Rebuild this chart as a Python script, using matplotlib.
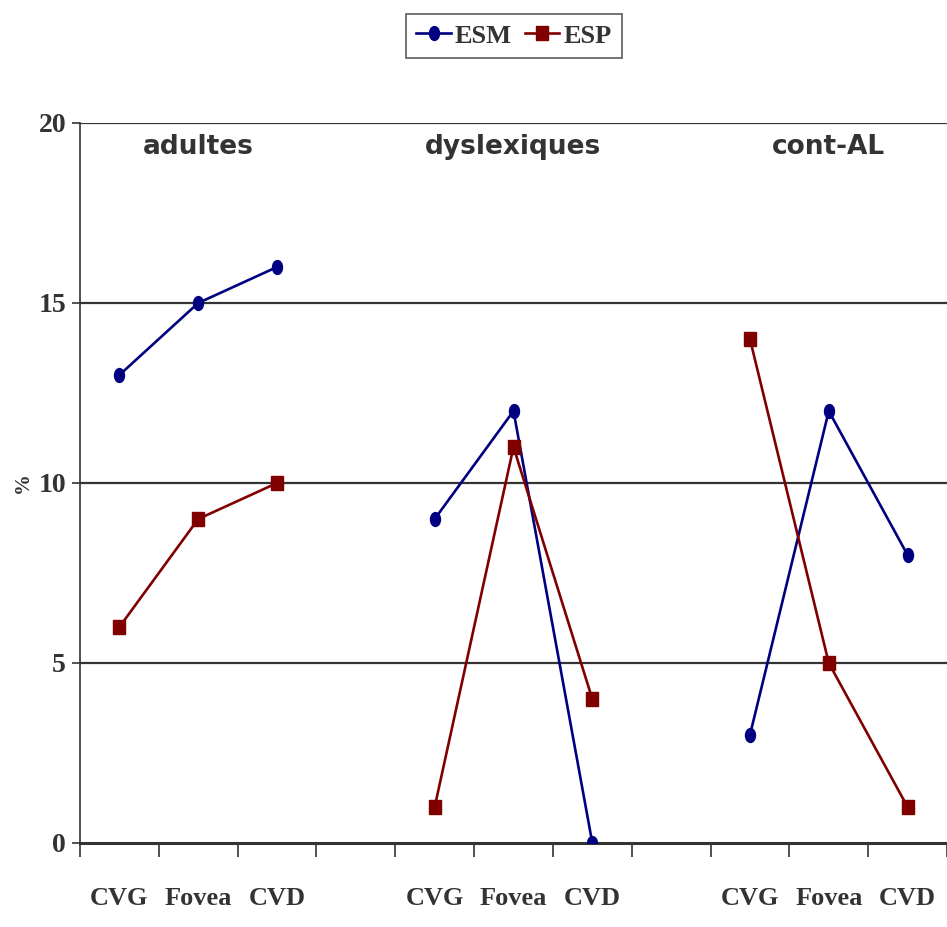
import numpy as np
import matplotlib
matplotlib.use("Agg")
import matplotlib.pyplot as plt
from matplotlib.markers import MarkerStyle
from matplotlib.transforms import Affine2D

# Categories along the x axis (an empty slot separates each group)
categories = ["CVG", "Fovea", "CVD", "", "CVG", "Fovea", "CVD", "", "CVG", "Fovea", "CVD"]
groups = ["adultes", "dyslexiques", "cont-AL"]
group_positions = [[0, 1, 2], [4, 5, 6], [8, 9, 10]]

# Percentages per group
esm = [[13, 15, 16], [9, 12, 0], [3, 12, 8]]
esp = [[6, 9, 10], [1, 11, 4], [14, 5, 1]]

yticks = [0, 5, 10, 15, 20]

navy = "#000080"
maroon = "#800000"
dark = "#333333"

serif = ["Liberation Serif", "DejaVu Serif"]

fig = plt.figure(figsize=(9.47, 9.27), dpi=100)
ax = fig.add_axes([80 / 947, 1 - 843 / 927, 1 - 80 / 947, (843 - 123) / 927])

oval = MarkerStyle("o", transform=Affine2D().scale(0.72, 1.0))
square = MarkerStyle("s", transform=Affine2D().scale(0.85, 1.0))

for i, pos in enumerate(group_positions):
    ax.plot(pos, esm[i], color=navy, lw=1.9, marker=oval, ms=10,
            mec=navy, mfc=navy, label="ESM" if i == 0 else None, zorder=3)
    ax.plot(pos, esp[i], color=maroon, lw=1.9, marker=square, ms=9.5,
            mec=maroon, mfc=maroon, label="ESP" if i == 0 else None, zorder=3)

ax.set_xlim(-0.5, len(categories) - 0.5)
ax.set_ylim(0, 20)

# Horizontal gridlines
for y in yticks[1:]:
    ax.axhline(y, color=dark, lw=1.6, zorder=1)

ax.set_yticks(yticks)
ax.set_yticklabels([str(v) for v in yticks], family=serif, fontweight="bold",
                   fontsize=20, color=dark)
ax.tick_params(axis="y", length=6, width=1.2, color=dark, pad=4)

# Ticks on category boundaries, labels at the category centres
ax.set_xticks(np.arange(-0.5, len(categories), 1.0))
ax.set_xticklabels([])
ax.tick_params(axis="x", length=10, width=1.2, color=dark)
for x, lab in enumerate(categories):
    if lab:
        ax.text(x, -1.55, lab, ha="center", va="center", family=serif,
                fontweight="bold", fontsize=19, color=dark, clip_on=False)

for s in ["top", "right"]:
    ax.spines[s].set_visible(False)
ax.spines["left"].set_color(dark)
ax.spines["left"].set_linewidth(1.2)
ax.spines["bottom"].set_color(dark)
ax.spines["bottom"].set_linewidth(2.2)

ax.set_ylabel("%", family=serif, fontweight="bold", fontsize=15, color=dark,
              labelpad=4)

for name, pos in zip(groups, group_positions):
    ax.text(pos[1], 19.33, name, ha="center", va="center", fontsize=19,
            fontweight="bold", color=dark, family="DejaVu Sans")

leg = fig.legend(loc="center", bbox_to_anchor=(514 / 947, 1 - 36 / 927), ncol=2,
                 frameon=True, fancybox=False, edgecolor=dark, handlelength=1.3,
                 handletextpad=0.15, columnspacing=0.5, borderpad=0.4,
                 borderaxespad=0.0,
                 prop={"family": serif, "weight": "bold", "size": 19})
leg.get_frame().set_linewidth(1.2)
for t in leg.get_texts():
    t.set_color(dark)

fig.savefig("out.png", dpi=100, facecolor="white")
